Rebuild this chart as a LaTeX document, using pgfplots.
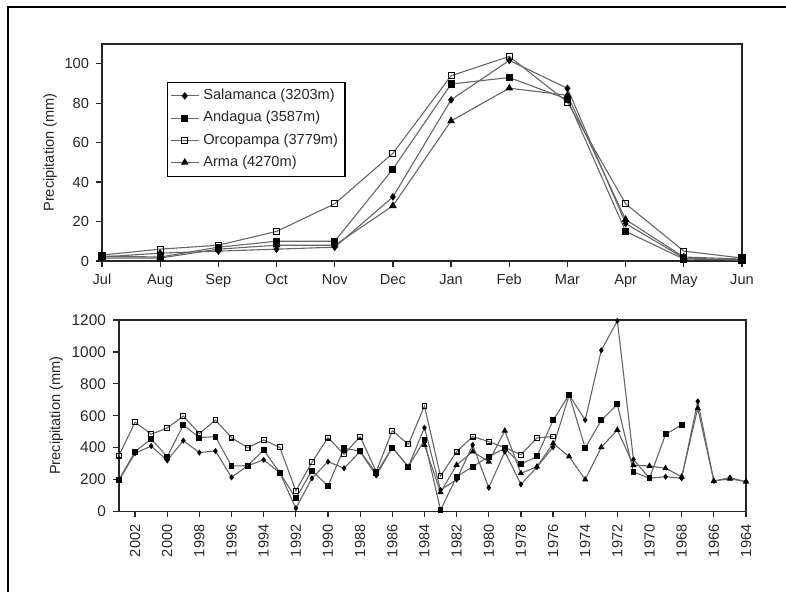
\documentclass[border=0pt]{standalone}
\usepackage{pgfplots}
\pgfplotsset{compat=1.18}
\usepackage{fontspec}
\setmainfont{Liberation Sans}
\definecolor{ln}{HTML}{666666}
\begin{document}
\begin{tikzpicture}
\useasboundingbox (0pt,0pt) rectangle (393pt,296pt);
\draw[line width=0.8pt, black] (4pt,0pt) -- (4pt,292.5pt) -- (393pt,292.5pt);
\pgfplotsset{
 every axis/.append style={
   scale only axis,
   font=\fontsize{7.3}{8.5}\selectfont,
   /pgf/number format/assume math mode=true,
   /pgf/number format/set thousands separator={},
   axis line style={black!85, line width=0.8pt},
   tick style={black!85, line width=0.6pt},
   tick align=outside,
   major tick length=3pt,
   xtick pos=bottom, ytick pos=left,
   tick label style={font=\fontsize{7.3}{8.5}\selectfont, text=black!85},
   label style={font=\fontsize{7.3}{8.5}\selectfont, text=black!85},
 },
 sal/.style={ln, line width=0.55pt, mark=diamond*, mark options={black, fill=black, solid}},
 and/.style={ln, line width=0.55pt, mark=square*, mark options={black, fill=black, solid}},
 orc/.style={ln, line width=0.55pt, mark=square, mark options={black, fill=white, solid}},
 arm/.style={ln, line width=0.55pt, mark=triangle*, mark options={black, fill=black, solid}},
}
\begin{axis}[at={(51pt,165.5pt)}, anchor=south west, width=320pt, height=108.5pt,
  xmin=0, xmax=11, ymin=0, ymax=110,
  ytick={0,20,...,100},
  xtick={0,...,11},
  xticklabels={Jul,Aug,Sep,Oct,Nov,Dec,Jan,Feb,Mar,Apr,May,Jun},
  ylabel={Precipitation (mm)},
  ylabel style={at={(axis description cs:-0.081,0.5)}, anchor=center},
  legend style={at={(0.101,0.827)}, anchor=north west, draw=black, line width=0.6pt,
    font=\fontsize{7.3}{8.5}\selectfont, text=black!85, inner sep=1.5pt, row sep=0.3pt},
  legend cell align=left,
  legend image code/.code={\draw[mark repeat=2,mark phase=2] plot coordinates {(0pt,0pt) (7pt,0pt) (14pt,0pt)};},
  clip=false]
\addplot[sal, mark size=1.5pt] coordinates {(0,2)(1,4)(2,5)(3,6)(4,7)(5,32.5)(6,81.7)(7,101.7)(8,87.5)(9,19)(10,1.5)(11,0.5)};
\addlegendentry{Salamanca (3203m)}
\addplot[and, mark size=1.5pt] coordinates {(0,2.5)(1,2)(2,7)(3,10)(4,10)(5,46.6)(6,89.7)(7,93)(8,82)(9,15)(10,1)(11,0.5)};
\addlegendentry{Andagua (3587m)}
\addplot[orc, mark size=1.5pt] coordinates {(0,3)(1,6)(2,8)(3,15)(4,29)(5,54.6)(6,93.9)(7,103.7)(8,80.5)(9,29)(10,5)(11,1.5)};
\addlegendentry{Orcopampa (3779m)}
\addplot[arm, mark size=1.7pt] coordinates {(0,1.5)(1,1.5)(2,6)(3,8)(4,8)(5,28)(6,71)(7,87.6)(8,84)(9,21)(10,2)(11,1)};
\addlegendentry{Arma (4270m)}
\end{axis}
\begin{axis}[at={(59.5pt,40.25pt)}, anchor=south west, width=313.5pt, height=95.75pt,
  xmin=1964, xmax=2003, x dir=reverse, ymin=0, ymax=1200,
  ytick={0,200,...,1200},
  xtick={1964,1966,...,2002},
  xticklabel style={rotate=90, anchor=east},
  yticklabel style={font=\fontsize{7.7}{9}\selectfont},
  ylabel={Precipitation (mm)},
  ylabel style={at={(axis description cs:-0.1,0.5)}, anchor=center},
  clip=false]
\addplot[orc, mark size=1.2pt] coordinates {(2003,350)(2002,560)(2001,484)(2000,523)(1999,598)(1998,488)(1997,573)(1996,463)(1995,400)(1994,448)(1993,402)(1992,130)(1991,308)(1990,463)(1989,358)(1988,469)(1987,250)(1986,506)(1985,421)(1984,661)(1983,222)(1982,375)(1981,469)(1980,438)(1979,400)(1978,356)(1977,461)(1976,470)};
\addplot[and, mark size=1.2pt] coordinates {(2003,200)(2002,375)(2001,455)(2000,343)(1999,542)(1998,463)(1997,469)(1996,285)(1995,287)(1994,385)(1993,243)(1992,82)(1991,256)(1990,160)(1989,396)(1988,378)(1987,239)(1986,400)(1985,281)(1984,448)(1983,9)(1982,218)(1981,281)(1980,344)(1979,396)(1978,296)(1977,346)(1976,571)(1975,732)(1974,398)(1973,571)(1972,672)(1971,248)(1970,208)(1969,484)(1968,542)};
\addplot[sal, mark size=1.1pt] coordinates {(2003,195)(2002,365)(2001,410)(2000,320)(1999,444)(1998,369)(1997,379)(1996,214)(1995,287)(1994,323)(1993,243)(1992,20)(1991,208)(1990,312)(1989,271)(1988,375)(1987,226)(1986,400)(1985,281)(1984,525)(1983,135)(1982,200)(1981,417)(1980,149)(1979,375)(1978,170)(1977,278)(1976,403)(1975,730)(1974,573)(1973,1010)(1972,1195)(1971,326)(1970,208)(1969,218)(1968,208)(1967,690)(1966,191)(1965,212)(1964,187)};
\addplot[arm, mark size=1.3pt] coordinates {(1984,417)(1983,120)(1982,291)(1981,375)(1980,312)(1979,506)(1978,239)(1977,281)(1976,427)(1975,344)(1974,200)(1973,403)(1972,511)(1971,290)(1970,285)(1969,271)(1968,218)(1967,647)(1966,191)(1965,205)(1964,187)};
\end{axis}
\end{tikzpicture}
\end{document}
